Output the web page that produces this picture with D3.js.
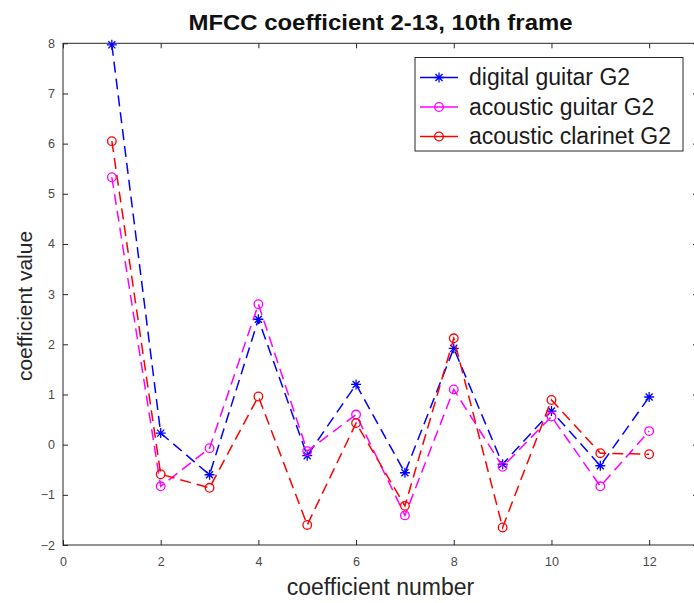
<!DOCTYPE html>
<html>
<head>
<meta charset="utf-8">
<script src="https://cdn.jsdelivr.net/npm/d3@7"></script>
<style>
    body { margin: 0; background: #fff; }
    text { font-family: "Liberation Sans", Arial, Helvetica, sans-serif; }
</style>
</head>
<body>
<svg id="chart" width="694" height="603"></svg>
<script>
// data
const coefficientNumbers = [1, 2, 3, 4, 5, 6, 7, 8, 9, 10, 11, 12];
const digitalGuitar = [7.97, 0.23, -0.6, 2.5, -0.22, 1.2, -0.56, 1.92, -0.39, 0.67, -0.42, 0.95];
const acousticGuitar = [5.33, -0.83, -0.07, 2.8, -0.13, 0.6, -1.41, 1.1, -0.44, 0.56, -0.83, 0.27];
const acousticClarinet = [6.05, -0.59, -0.86, 0.96, -1.6, 0.43, -1.22, 2.12, -1.65, 0.89, -0.17, -0.19];
const seriesNames = ['digital guitar G2', 'acoustic guitar G2', 'acoustic clarinet G2'];
const xTicks = [0, 2, 4, 6, 8, 10, 12];
const yTicks = [-2, -1, 0, 1, 2, 3, 4, 5, 6, 7, 8];

const series = [
    { name: seriesNames[0], values: digitalGuitar, color: '#0000ff', marker: 'star' },
    { name: seriesNames[1], values: acousticGuitar, color: '#ff00ff', marker: 'circle' },
    { name: seriesNames[2], values: acousticClarinet, color: '#ff0000', marker: 'circle' }
];

const svg = d3.select('#chart');
const plotLeft = 63, plotRight = 698, plotTop = 43.3, plotBottom = 545;
const axisColor = '#262626';

const x = d3.scaleLinear().domain([0, 13]).range([plotLeft, plotRight]);
const y = d3.scaleLinear().domain([-2, 8]).range([plotBottom, plotTop]);

// axes, MATLAB style: ticks inward on all four sides
function styleAxis(g) {
    g.select('.domain').remove();
    g.selectAll('line').attr('stroke', axisColor);
    g.selectAll('text')
        .attr('fill', '#4a4a4a')
        .style('font-size', '12.5px');
}

svg.append('g')
    .attr('transform', `translate(0,${plotBottom})`)
    .call(d3.axisBottom(x).tickValues(xTicks).tickSize(-5).tickPadding(12))
    .call(styleAxis);
svg.append('g')
    .attr('transform', `translate(0,${plotTop})`)
    .call(d3.axisTop(x).tickValues(xTicks).tickSize(-5).tickFormat(''))
    .call(styleAxis);
svg.append('g')
    .attr('transform', `translate(${plotLeft},0)`)
    .call(d3.axisLeft(y).tickValues(yTicks).tickSize(-5).tickPadding(8))
    .call(styleAxis);
svg.append('g')
    .attr('transform', `translate(${plotRight},0)`)
    .call(d3.axisRight(y).tickValues(yTicks).tickSize(-5).tickFormat(''))
    .call(styleAxis);

svg.append('rect')
    .attr('x', plotLeft)
    .attr('y', plotTop)
    .attr('width', plotRight - plotLeft)
    .attr('height', plotBottom - plotTop)
    .attr('fill', 'none')
    .attr('stroke', axisColor)
    .attr('stroke-width', 1);

// lines
const line = d3.line()
    .x((d, i) => x(coefficientNumbers[i]))
    .y(d => y(d));

const starPath = r => {
    const a = r * Math.SQRT1_2;
    return `M${-r},0L${r},0M0,${-r}L0,${r}M${-a},${-a}L${a},${a}M${-a},${a}L${a},${-a}`;
};

function drawMarker(g, marker, color) {
    if (marker === 'star') {
        g.append('path')
            .attr('d', starPath(5))
            .attr('stroke', color)
            .attr('stroke-width', 1.3)
            .attr('fill', 'none');
    } else {
        g.append('circle')
            .attr('r', 4.3)
            .attr('stroke', color)
            .attr('stroke-width', 1.3)
            .attr('fill', 'none');
    }
}

const plot = svg.append('g');

series.forEach(s => {
    plot.append('path')
        .attr('d', line(s.values))
        .attr('fill', 'none')
        .attr('stroke', s.color)
        .attr('stroke-width', 1.5)
        .attr('stroke-dasharray', '11,6');
    plot.selectAll(null)
        .data(s.values)
        .enter()
        .append('g')
        .attr('transform', (d, i) => `translate(${x(coefficientNumbers[i])},${y(d)})`)
        .each(function () { drawMarker(d3.select(this), s.marker, s.color); });
});

// title and axis labels
svg.append('text')
    .attr('x', (plotLeft + plotRight) / 2)
    .attr('y', 30)
    .attr('text-anchor', 'middle')
    .attr('fill', '#111')
    .style('font-size', '22px')
    .style('font-weight', 'bold')
    .attr('textLength', 384)
    .attr('lengthAdjust', 'spacingAndGlyphs')
    .text('MFCC coefficient 2-13, 10th frame');

svg.append('text')
    .attr('x', 380.5)
    .attr('y', 595)
    .attr('text-anchor', 'middle')
    .attr('fill', '#262626')
    .style('font-size', '23px')
    .text('coefficient number');

svg.append('text')
    .attr('transform', 'translate(32,306) rotate(-90)')
    .attr('text-anchor', 'middle')
    .attr('fill', '#262626')
    .style('font-size', '21px')
    .text('coefficient value');

// legend
const legend = svg.append('g');
legend.append('rect')
    .attr('x', 415)
    .attr('y', 57.5)
    .attr('width', 268)
    .attr('height', 93.5)
    .attr('fill', '#fff')
    .attr('stroke', axisColor)
    .attr('stroke-width', 1);

const legendRows = legend.selectAll('g.row')
    .data(series)
    .enter()
    .append('g')
    .attr('class', 'row')
    .attr('transform', (d, i) => `translate(0,${77.5 + i * 29.5})`);

legendRows.append('line')
    .attr('x1', 420)
    .attr('x2', 458)
    .attr('stroke', d => d.color)
    .attr('stroke-width', 1.5);
legendRows.append('g')
    .attr('transform', 'translate(439,0)')
    .each(function (d) { drawMarker(d3.select(this), d.marker, d.color); });
legendRows.append('text')
    .attr('x', 469)
    .attr('y', 7.5)
    .attr('fill', '#1a1a1a')
    .style('font-size', '23px')
    .text(d => d.name);
</script>
</body>
</html>
